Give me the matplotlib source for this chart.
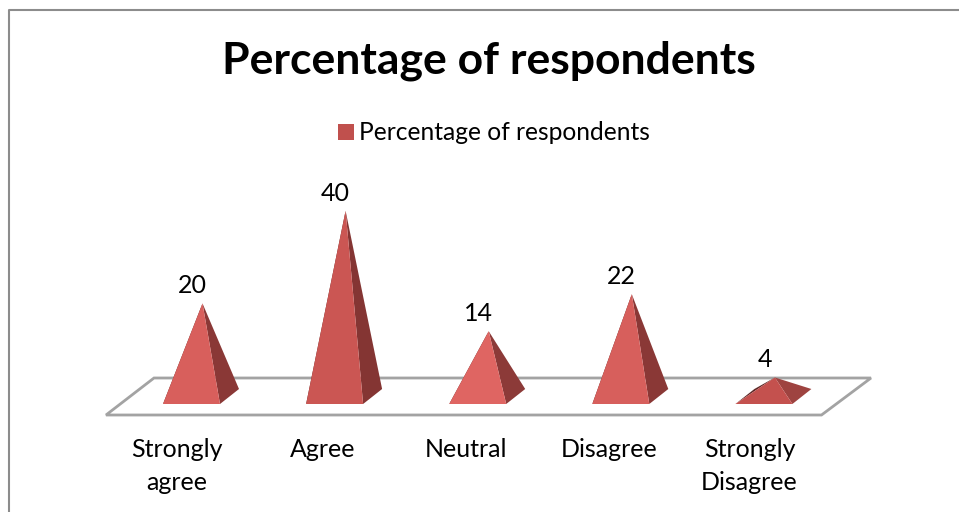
import matplotlib
matplotlib.use("Agg")
import matplotlib.pyplot as plt
from matplotlib.patches import Polygon, Rectangle
from matplotlib.lines import Line2D

plt.rcParams["font.family"] = ["Lato", "DejaVu Sans"]

title = "Percentage of respondents"
categories = ["Strongly\nagree", "Agree", "Neutral", "Disagree", "Strongly\nDisagree"]
values = [20, 40, 14, 22, 4]

# Shading of each pyramid (lit front face, shaded right face)
front_colors = ["#D85F5C", "#CB5653", "#DF6562", "#D75F5C", "#C4514E"]
side_colors = ["#8A3836", "#843533", "#8C3A38", "#8A3836", "#9E4340"]
# Horizontal nudge of each category label, in pixels
label_shift = [-15, -11.5, -11.5, -11.5, -14.5]

W, H = 959, 512
fig = plt.figure(figsize=(W / 100, H / 100), dpi=100, facecolor="white")
ax = fig.add_axes([0, 0, 1, 1])

# Category axis: one unit per category; value axis: one unit per percentage point
PX_X, PX_Y = 143.1, 4.63
X0, Y0 = 191.5, 396.0
ax.set_xlim(-X0 / PX_X, (W - X0) / PX_X)
ax.set_ylim(-(H - Y0) / PX_Y, Y0 / PX_Y)
ax.axis("off")


def dx(px):
    return px / PX_X


def dy(px):
    return px / PX_Y


# Floor of the 3D plot
floor = [(-85.5, -19), (630, -19), (679.5, 18), (-37.5, 18)]
ax.add_patch(Polygon([(dx(a), dy(b)) for a, b in floor], closed=True,
                     facecolor="white", edgecolor="#A3A3A3", linewidth=2, zorder=1))

half = dx(28.5)
base_front = dy(-8)
for i, (v, fc, sc, shift) in enumerate(zip(values, front_colors, side_colors, label_shift)):
    apex = (i + dx(11), v)
    fl = (i - half, base_front)
    fr = (i + half, base_front)
    br = (i + half + dx(19), base_front + dy(15))
    bl = (i - half + dx(19), base_front + dy(15))
    ax.add_patch(Polygon([fl, bl, apex], closed=True, facecolor="#5E2A28", edgecolor="none", zorder=2))
    ax.add_patch(Polygon([fr, br, apex], closed=True, facecolor=sc, edgecolor="none", zorder=3))
    ax.add_patch(Polygon([fl, fr, apex], closed=True, facecolor=fc, edgecolor="none", zorder=4))
    ax.text(i + dx(1), v + dy(6), str(v), ha="center", va="bottom", fontsize=18, color="black", zorder=5)
    ax.text(i + dx(shift), dy(-42), categories[i], ha="center", va="top", fontsize=18,
            color="black", linespacing=1.52, zorder=5)

fig.text(489 / W, 1 - 61 / H, title, ha="center", va="center", fontsize=32, fontweight="bold", color="black")

# Legend entry
fig.add_artist(Rectangle((338 / W, 1 - 140 / H), 16 / W, 16 / H, transform=fig.transFigure,
                         facecolor="#C0504D", edgecolor="none"))
fig.text(359 / W, 1 - 132 / H, title, ha="left", va="center", fontsize=17.75, color="black")

# Chart area border: top and left edges
fig.add_artist(Line2D([9 / W, 9 / W, 1], [0, 1 - 10 / H, 1 - 10 / H], transform=fig.transFigure,
                      color="#8C8C8C", linewidth=1.5))

fig.savefig("out.png", dpi=100, facecolor="white")
